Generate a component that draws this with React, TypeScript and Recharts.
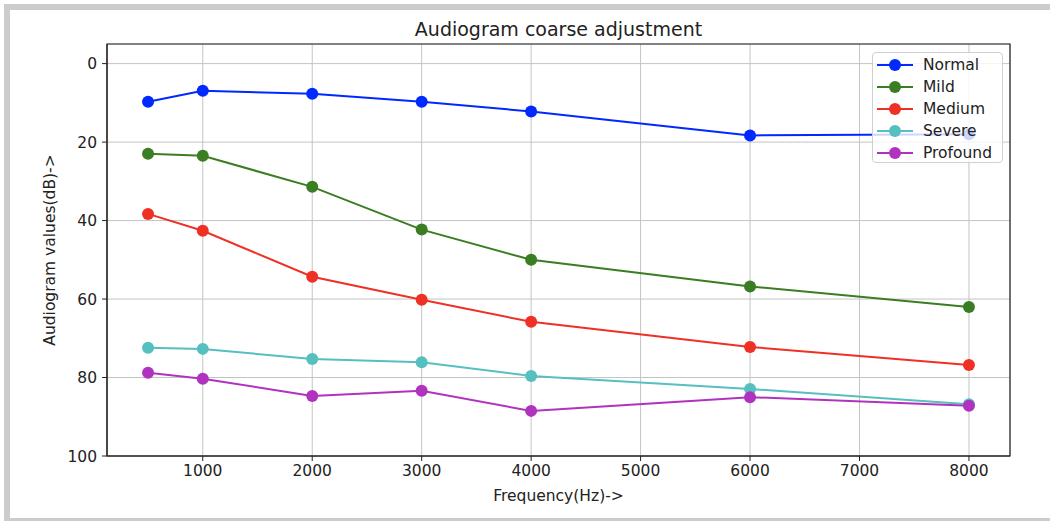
import React from 'react';
import {
  LineChart,
  Line,
  XAxis,
  YAxis,
  CartesianGrid,
  ReferenceArea,
} from 'recharts';

const frequencies = [500, 1000, 2000, 3000, 4000, 6000, 8000];
const normal = [9.7, 6.9, 7.7, 9.7, 12.2, 18.3, 18.0];
const mild = [23.0, 23.5, 31.4, 42.3, 50.0, 56.8, 62.0];
const medium = [38.3, 42.6, 54.3, 60.2, 65.8, 72.2, 76.8];
const severe = [72.4, 72.7, 75.3, 76.1, 79.6, 82.9, 86.8];
const profound = [78.8, 80.3, 84.7, 83.4, 88.5, 85.0, 87.2];

const xTicks = [1000, 2000, 3000, 4000, 5000, 6000, 7000, 8000];
const yTicks = [0, 20, 40, 60, 80, 100];

const seriesNames = ['Normal', 'Mild', 'Medium', 'Severe', 'Profound'];
const seriesColors = ['#0029ff', '#3a7d22', '#ee3124', '#56bfc0', '#b033c0'];
const seriesValues = [normal, mild, medium, severe, profound];

const data = frequencies.map((f, i) => {
  const row: Record<string, number> = { freq: f };
  seriesNames.forEach((n, s) => {
    row[n] = seriesValues[s][i];
  });
  return row;
});

const FONT = '"DejaVu Sans", sans-serif';

const LegendBox = () => (
  <div
    style={{
      position: 'absolute',
      left: 872,
      top: 52,
      width: 131,
      height: 111,
      boxSizing: 'border-box',
      border: '1px solid #d0d0d0',
      borderRadius: 4,
      background: 'rgba(255,255,255,0.8)',
      fontFamily: FONT,
      fontSize: 15.5,
      color: '#222',
    }}
  >
    {seriesNames.map((n, i) => (
      <div
        key={n}
        style={{
          position: 'absolute',
          left: 0,
          top: 1 + i * 22,
          height: 22,
          width: '100%',
        }}
      >
        <svg width={40} height={22} style={{ position: 'absolute', left: 3, top: 0 }}>
          <line x1={1} y1={11} x2={37} y2={11} stroke={seriesColors[i]} strokeWidth={2} />
          <circle cx={19} cy={11} r={6} fill={seriesColors[i]} />
        </svg>
        <span style={{ position: 'absolute', left: 50, top: 2, lineHeight: '18px', whiteSpace: 'nowrap' }}>
          {n}
        </span>
      </div>
    ))}
  </div>
);

export default function App() {
  return (
    <div
      style={{
        position: 'absolute',
        left: 0,
        top: 0,
        width: 1050,
        height: 521,
        background: '#fff',
        overflow: 'hidden',
      }}
    >
      <div
        style={{
          position: 'absolute',
          left: 4,
          top: 4,
          width: 1046,
          height: 517,
          boxSizing: 'border-box',
          borderTop: '6px solid #cccccc',
          borderLeft: '6px solid #cccccc',
          borderBottom: '3px solid #cccccc',
        }}
      />
      <div
        style={{
          position: 'absolute',
          left: 107,
          width: 903,
          top: 17,
          textAlign: 'center',
          fontFamily: FONT,
          fontSize: 19,
          color: '#222',
          lineHeight: '24px',
        }}
      >
        Audiogram coarse adjustment
      </div>
      <div
        style={{
          position: 'absolute',
          left: 50 - 120,
          top: 250 - 10,
          width: 240,
          height: 20,
          lineHeight: '20px',
          textAlign: 'center',
          transform: 'rotate(-90deg)',
          fontFamily: FONT,
          fontSize: 15.5,
          color: '#222',
        }}
      >
        Audiogram values(dB)-&gt;
      </div>
      <div style={{ position: 'absolute', left: 0, top: 0 }}>
        <LineChart
          width={1050}
          height={521}
          data={data}
          margin={{ top: 44, right: 40, bottom: 0, left: 0 }}
        >
          <CartesianGrid stroke="#c4c4c4" strokeWidth={1} />
          <XAxis
            dataKey="freq"
            type="number"
            domain={[125, 8375]}
            ticks={xTicks}
            allowDataOverflow
            height={65}
            tickSize={5}
            tickMargin={4}
            stroke="#222"
            tick={{ fill: '#222', fontSize: 15.5, fontFamily: FONT }}
            label={{
              value: 'Frequency(Hz)->',
              position: 'insideBottom',
              offset: 20,
              fill: '#222',
              fontSize: 15.5,
              fontFamily: FONT,
            }}
          />
          <YAxis
            type="number"
            reversed
            domain={[-5, 100]}
            ticks={yTicks}
            allowDataOverflow
            width={107}
            tickSize={5}
            tickMargin={5}
            stroke="#222"
            tick={{ fill: '#222', fontSize: 15.5, fontFamily: FONT }}
          />
          <ReferenceArea
            x1={125}
            x2={8375}
            y1={-5}
            y2={100}
            stroke="#222"
            strokeWidth={1.2}
            fill="none"
            fillOpacity={0}
            ifOverflow="visible"
          />
          {seriesNames.map((n, i) => (
            <Line
              key={n}
              dataKey={n}
              name={n}
              type="linear"
              stroke={seriesColors[i]}
              strokeWidth={2}
              dot={{ r: 6, fill: seriesColors[i], stroke: seriesColors[i], strokeWidth: 0 }}
              activeDot={false}
              isAnimationActive={false}
            />
          ))}
        </LineChart>
      </div>
      <LegendBox />
    </div>
  );
}
